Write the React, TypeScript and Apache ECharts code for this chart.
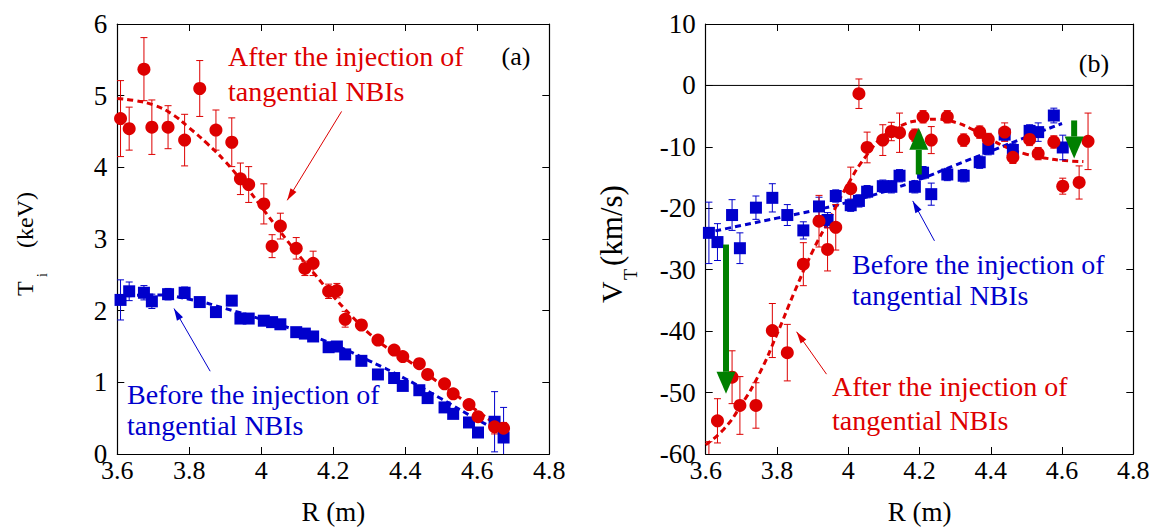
import React, { useEffect, useRef } from "react";
import * as echarts from "echarts";

// ---- data ----
const R_CH = [3.609, 3.633, 3.674, 3.696, 3.741, 3.787, 3.829, 3.874, 3.918, 3.942, 3.965, 4.007, 4.03, 4.053, 4.097, 4.121, 4.144, 4.187, 4.21, 4.233, 4.278, 4.324, 4.369, 4.393, 4.439, 4.462, 4.509, 4.533, 4.577, 4.602, 4.648, 4.673];

const TI_AFTER = [4.68, 4.54, 5.37, 4.56, 4.56, 4.38, 5.1, 4.52, 4.35, 3.84, 3.76, 3.49, 2.9, 3.18, 2.87, 2.59, 2.66, 2.27, 2.28, 1.88, 1.8, 1.59, 1.45, 1.36, 1.26, 1.11, 0.98, 0.84, 0.69, 0.52, 0.38, 0.36];
const TI_AFTER_ERR = [0.53, 0.3, 0.44, 0.38, 0.3, 0.36, 0.39, 0.28, 0.34, 0.22, 0.25, 0.28, 0.16, 0.18, 0.15, 0.1, 0.17, 0.1, 0.1, 0.11, 0.06, 0.05, 0.05, 0.05, 0.05, 0.05, 0.05, 0.05, 0.05, 0.05, 0.1, 0.08];
const TI_BEFORE = [2.15, 2.27, 2.25, 2.13, 2.23, 2.25, 2.12, 1.98, 2.14, 1.89, 1.89, 1.86, 1.84, 1.81, 1.7, 1.68, 1.64, 1.49, 1.5, 1.39, 1.3, 1.11, 1.06, 0.95, 0.89, 0.78, 0.65, 0.56, 0.44, 0.3, 0.45, 0.23];
const TI_BEFORE_ERR = [0.28, 0.13, 0.1, 0.1, 0.08, 0.08, 0.05, 0.05, 0.05, 0.05, 0.05, 0.05, 0.05, 0.05, 0.05, 0.05, 0.05, 0.05, 0.05, 0.05, 0.05, 0.05, 0.05, 0.05, 0.05, 0.05, 0.05, 0.05, 0.05, 0.05, 0.42, 0.42];

const TI_FIT_AFTER_R = [3.6, 3.65, 3.7, 3.75, 3.8, 3.85, 3.9, 3.95, 4.0, 4.05, 4.1, 4.15, 4.2, 4.25, 4.3, 4.35, 4.4, 4.45, 4.5, 4.55, 4.6, 4.65, 4.68];
const TI_FIT_AFTER = [4.96, 4.93, 4.87, 4.75, 4.55, 4.33, 4.08, 3.78, 3.45, 3.12, 2.8, 2.5, 2.2, 1.93, 1.68, 1.48, 1.33, 1.15, 0.97, 0.79, 0.6, 0.43, 0.36];
const TI_FIT_BEFORE_R = [3.6, 3.7, 3.8, 3.9, 4.0, 4.1, 4.2, 4.3, 4.4, 4.5, 4.6, 4.68];
const TI_FIT_BEFORE = [2.2, 2.22, 2.16, 2.03, 1.88, 1.72, 1.53, 1.3, 1.05, 0.77, 0.48, 0.27];

const VT_AFTER = [-61.5, -54.6, -47.5, -52.1, -52.1, -39.9, -43.5, -29.1, -22.1, -26.7, -23.1, -16.8, -1.35, -10.1, -8.9, -7.5, -7.7, -8.1, -5.1, -8.9, -5.1, -8.9, -7.6, -8.8, -7.6, -11.7, -8.8, -11.1, -9.2, -16.4, -15.8, -9.1];
const VT_AFTER_ERR = [3.5, 3.6, 4.3, 4.7, 3.7, 4.4, 4.6, 3.5, 4.2, 3.5, 3.7, 3.5, 2.4, 2.5, 2.5, 1.5, 3.2, 1.0, 1.0, 2.2, 1.0, 1.0, 1.0, 1.0, 1.5, 1.0, 1.0, 1.0, 1.0, 1.3, 2.7, 4.6];
const VT_BEFORE = [-24.0, -25.5, -21.1, -26.5, -19.9, -18.3, -21.1, -23.6, -19.7, -21.9, -18.0, -19.5, -18.8, -17.3, -16.4, -16.5, -14.7, -16.5, -14.2, -17.7, -14.5, -14.7, -12.5, -10.3, -8.0, -10.5, -7.4, -7.6, -4.9, -10.1, null, null];
const VT_BEFORE_ERR = [5.0, 3.0, 2.5, 2.5, 1.9, 2.3, 1.7, 1.4, 1.5, 1.2, 1.0, 1.0, 1.0, 1.0, 1.0, 1.0, 1.0, 1.0, 1.0, 1.8, 1.0, 1.0, 1.0, 1.0, 1.0, 1.0, 1.0, 1.5, 1.2, 2.0, null, null];

const VT_FIT_AFTER_R = [3.6, 3.65, 3.7, 3.75, 3.8, 3.85, 3.9, 3.95, 4.0, 4.05, 4.1, 4.15, 4.2, 4.25, 4.3, 4.35, 4.4, 4.45, 4.5, 4.55, 4.6, 4.66];
const VT_FIT_AFTER = [-58.5, -56, -52, -47, -40.5, -33.5, -27, -21.5, -16, -11.5, -8.2, -6.5, -5.7, -5.5, -6, -7.2, -8.8, -10.2, -11.2, -11.8, -12.2, -12.4];
const VT_FIT_BEFORE_R = [3.6, 3.7, 3.8, 3.9, 4.0, 4.1, 4.2, 4.3, 4.4, 4.5, 4.6];
const VT_FIT_BEFORE = [-24, -22.8, -21.6, -20.4, -19, -17.3, -15.3, -13, -10.7, -8.4, -6.2];

// green change arrows (R, from, to)
const GREEN_R = [3.657, 4.198, 4.634];
const GREEN_FROM = [-25.9, -14.5, -5.7];
const GREEN_TO = [-50.2, -6.9, -11.9];

// annotation pointer arrows [R1, y1, R2(tip), y2(tip)]
const TI_RED_ARROW = [4.223, 4.78, 4.072, 3.54];
const TI_BLUE_ARROW = [3.858, 1.155, 3.7575, 2.03];
const VT_BLUE_ARROW = [4.242, -25.3, 4.181, -18.8];
const VT_RED_ARROW = [3.939, -47.0, 3.855, -40.1];

const X_TICKS_MIN = 3.6;
const X_TICKS_MAX = 4.8;

const RED = "#dd0000";
const BLUE = "#0000cc";
const GREEN = "#008000";
const FONT = "Liberation Serif";

function pts(xs: number[], ys: (number | null)[]) {
  const out: number[][] = [];
  xs.forEach((x, i) => {
    if (ys[i] !== null && ys[i] !== undefined) out.push([x, ys[i] as number]);
  });
  return out;
}
function errPts(xs: number[], ys: (number | null)[], es: (number | null)[]) {
  const out: number[][] = [];
  xs.forEach((x, i) => {
    if (ys[i] !== null && es[i] !== null) out.push([x, ys[i] as number, es[i] as number]);
  });
  return out;
}

function errRender(color: string) {
  return (params: any, api: any) => {
    const x = api.value(0), y = api.value(1), e = api.value(2);
    const t = api.coord([x, y + e]);
    const b = api.coord([x, y - e]);
    const hw = 3.5;
    const st = { stroke: color, lineWidth: 1 };
    return {
      type: "group",
      children: [
        { type: "line", shape: { x1: t[0], y1: t[1], x2: b[0], y2: b[1] }, style: st },
        { type: "line", shape: { x1: t[0] - hw, y1: t[1], x2: t[0] + hw, y2: t[1] }, style: st },
        { type: "line", shape: { x1: b[0] - hw, y1: b[1], x2: b[0] + hw, y2: b[1] }, style: st },
      ],
    };
  };
}

function pointerRender(color: string) {
  return (params: any, api: any) => {
    const p1 = api.coord([api.value(0), api.value(1)]);
    const p2 = api.coord([api.value(2), api.value(3)]);
    const dx = p2[0] - p1[0], dy = p2[1] - p1[1];
    const len = Math.sqrt(dx * dx + dy * dy) || 1;
    const ux = dx / len, uy = dy / len;
    const nx = -uy, ny = ux;
    const L = 12, W = 3.5;
    const bx = p2[0] - ux * L, by = p2[1] - uy * L;
    const st = { stroke: color, lineWidth: 1 };
    return {
      type: "group",
      children: [
        { type: "line", shape: { x1: p1[0], y1: p1[1], x2: p2[0], y2: p2[1] }, style: st },
        {
          type: "polygon",
          shape: { points: [[p2[0], p2[1]], [bx + nx * W, by + ny * W], [bx - nx * W, by - ny * W]] },
          style: { fill: color },
        },
      ],
    };
  };
}

function greenRender(params: any, api: any) {
  const r = api.value(0);
  const p1 = api.coord([r, api.value(1)]);
  const p2 = api.coord([r, api.value(2)]);
  const dir = p2[1] > p1[1] ? 1 : -1;
  const headL = 22, headW = 9.5, shaftW = 3;
  const baseY = p2[1] - dir * headL;
  return {
    type: "group",
    children: [
      {
        type: "polygon",
        shape: { points: [[p1[0] - shaftW, p1[1]], [p1[0] + shaftW, p1[1]], [p1[0] + shaftW, baseY], [p1[0] - shaftW, baseY]] },
        style: { fill: GREEN },
      },
      {
        type: "polygon",
        shape: { points: [[p2[0] - headW, baseY], [p2[0] + headW, baseY], [p2[0], p2[1]]] },
        style: { fill: GREEN },
      },
    ],
  };
}

const fmtX = (v: number) => String(Math.round(v * 10) / 10);

function xAxes(grid: number) {
  const common = {
    gridIndex: grid,
    type: "value",
    min: X_TICKS_MIN,
    max: X_TICKS_MAX,
    interval: 0.2,
    splitLine: { show: false },
    axisLine: { onZero: false, lineStyle: { color: "#000", width: 1.2 } },
    axisTick: { inside: true, length: 7, lineStyle: { color: "#000", width: 1 } },
  };
  return [
    {
      ...common,
      position: "bottom",
      axisLabel: { fontSize: 26, fontFamily: FONT, color: "#000", margin: 3, formatter: fmtX },
      name: "R (m)",
      nameLocation: "middle",
      nameGap: 44,
      nameTextStyle: { fontSize: 27, fontFamily: FONT, color: "#000" },
    },
    { ...common, position: "top", axisLabel: { show: false } },
  ];
}

function yAxes(grid: number, min: number, max: number, interval: number) {
  const common = {
    gridIndex: grid,
    type: "value",
    min,
    max,
    interval,
    splitLine: { show: false },
    axisLine: { onZero: false, lineStyle: { color: "#000", width: 1.2 } },
    axisTick: { inside: true, length: 7, lineStyle: { color: "#000", width: 1 } },
  };
  return [
    { ...common, position: "left", axisLabel: { fontSize: 27, fontFamily: FONT, color: "#000", margin: 10 } },
    { ...common, position: "right", axisLabel: { show: false } },
  ];
}

function txt(text: string, x: number, y: number, color: string, size: number, align = "left") {
  return {
    type: "text",
    x,
    y,
    silent: true,
    style: {
      text,
      fill: color,
      fontSize: size,
      fontFamily: FONT,
      align,
      verticalAlign: "middle",
    },
  };
}

export default function App() {
  const ref = useRef<HTMLDivElement>(null);
  useEffect(() => {
    if (!ref.current) return;
    const chart = echarts.init(ref.current, undefined, { renderer: "svg" });

    const option: any = {
      animation: false,
      backgroundColor: "#fff",
      textStyle: { fontFamily: FONT },
      grid: [
        { left: 117.3, top: 24, width: 432, height: 430 },
        { left: 705.7, top: 24, width: 427.6, height: 430 },
      ],
      xAxis: [...xAxes(0), ...xAxes(1)],
      yAxis: [...yAxes(0, 0, 6, 1), ...yAxes(1, -60, 10, 10)],
      series: [
        // zero line in panel (b)
        {
          type: "line",
          xAxisIndex: 2,
          yAxisIndex: 2,
          data: [[X_TICKS_MIN, 0], [X_TICKS_MAX, 0]],
          symbol: "none",
          lineStyle: { color: "#000", width: 1 },
          silent: true,
          z: 1,
        },
        // fits
        {
          type: "line", xAxisIndex: 0, yAxisIndex: 0, data: pts(TI_FIT_BEFORE_R, TI_FIT_BEFORE),
          symbol: "none", smooth: true, lineStyle: { color: BLUE, width: 3, type: [6, 4] }, z: 2,
        },
        {
          type: "line", xAxisIndex: 0, yAxisIndex: 0, data: pts(TI_FIT_AFTER_R, TI_FIT_AFTER),
          symbol: "none", smooth: true, lineStyle: { color: RED, width: 3, type: [6, 4] }, z: 2,
        },
        {
          type: "line", xAxisIndex: 2, yAxisIndex: 2, data: pts(VT_FIT_BEFORE_R, VT_FIT_BEFORE),
          symbol: "none", smooth: true, lineStyle: { color: BLUE, width: 3, type: [6, 4] }, z: 2,
        },
        {
          type: "line", xAxisIndex: 2, yAxisIndex: 2, data: pts(VT_FIT_AFTER_R, VT_FIT_AFTER),
          symbol: "none", smooth: true, lineStyle: { color: RED, width: 3, type: [6, 4] }, z: 2,
        },
        // error bars
        { type: "custom", xAxisIndex: 0, yAxisIndex: 0, clip: true, renderItem: errRender(BLUE), data: errPts(R_CH, TI_BEFORE, TI_BEFORE_ERR), z: 3 },
        { type: "custom", xAxisIndex: 0, yAxisIndex: 0, clip: true, renderItem: errRender(RED), data: errPts(R_CH, TI_AFTER, TI_AFTER_ERR), z: 3 },
        { type: "custom", xAxisIndex: 2, yAxisIndex: 2, clip: true, renderItem: errRender(BLUE), data: errPts(R_CH, VT_BEFORE, VT_BEFORE_ERR), z: 3 },
        { type: "custom", xAxisIndex: 2, yAxisIndex: 2, clip: true, renderItem: errRender(RED), data: errPts(R_CH, VT_AFTER, VT_AFTER_ERR), z: 3 },
        // markers
        { type: "scatter", xAxisIndex: 0, yAxisIndex: 0, symbol: "rect", symbolSize: 12, itemStyle: { color: BLUE, opacity: 1 }, data: pts(R_CH, TI_BEFORE), z: 4 },
        { type: "scatter", xAxisIndex: 0, yAxisIndex: 0, symbol: "circle", symbolSize: 13, itemStyle: { color: RED, opacity: 1 }, data: pts(R_CH, TI_AFTER), z: 4 },
        { type: "scatter", xAxisIndex: 2, yAxisIndex: 2, symbol: "rect", symbolSize: 12, itemStyle: { color: BLUE, opacity: 1 }, data: pts(R_CH, VT_BEFORE), z: 4 },
        { type: "scatter", xAxisIndex: 2, yAxisIndex: 2, symbol: "circle", symbolSize: 13, itemStyle: { color: RED, opacity: 1 }, data: pts(R_CH, VT_AFTER), z: 4, clip: true },
        // pointer arrows
        { type: "custom", xAxisIndex: 0, yAxisIndex: 0, renderItem: pointerRender(RED), data: [TI_RED_ARROW], z: 5 },
        { type: "custom", xAxisIndex: 0, yAxisIndex: 0, renderItem: pointerRender(BLUE), data: [TI_BLUE_ARROW], z: 5 },
        { type: "custom", xAxisIndex: 2, yAxisIndex: 2, renderItem: pointerRender(BLUE), data: [VT_BLUE_ARROW], z: 5 },
        { type: "custom", xAxisIndex: 2, yAxisIndex: 2, renderItem: pointerRender(RED), data: [VT_RED_ARROW], z: 5 },
        // green arrows
        {
          type: "custom", xAxisIndex: 2, yAxisIndex: 2, renderItem: greenRender,
          data: GREEN_R.map((r, i) => [r, GREEN_FROM[i], GREEN_TO[i]]), z: 6,
        },
      ],
      graphic: [
        txt("(a)", 516, 56, "#000", 26, "center"),
        txt("(b)", 1094, 63, "#000", 26, "center"),
        txt("After the injection of", 228, 56, RED, 28),
        txt("tangential NBIs", 228, 91, RED, 28),
        txt("Before the injection of", 127, 394, BLUE, 28),
        txt("tangential NBIs", 127, 425.5, BLUE, 28),
        txt("Before the injection of", 852, 264, BLUE, 28),
        txt("tangential NBIs", 852, 295.5, BLUE, 28),
        txt("After the injection of", 832, 386.5, RED, 28),
        txt("tangential NBIs", 832, 420.5, RED, 28),
        {
          type: "group",
          x: 33,
          y: 296,
          rotation: Math.PI / 2,
          children: [
            txt("T", 0, -8.2, "#000", 24),
            txt("i", 19, 9.5, "#000", 14),
            txt("(keV)", 48, -8.2, "#000", 24),
          ],
        },
        {
          type: "group",
          x: 622,
          y: 303,
          rotation: Math.PI / 2,
          children: [
            txt("V", 0, -10.5, "#000", 30),
            txt("T", 23, 8.9, "#000", 18),
            txt("(km/s)", 37, -10.8, "#000", 31),
          ],
        },
      ],
    };
    chart.setOption(option);
    return () => chart.dispose();
  }, []);
  return (
    <div
      ref={ref}
      style={{ position: "fixed", left: 0, top: 0, width: 1155, height: 530, background: "#fff" }}
    />
  );
}
